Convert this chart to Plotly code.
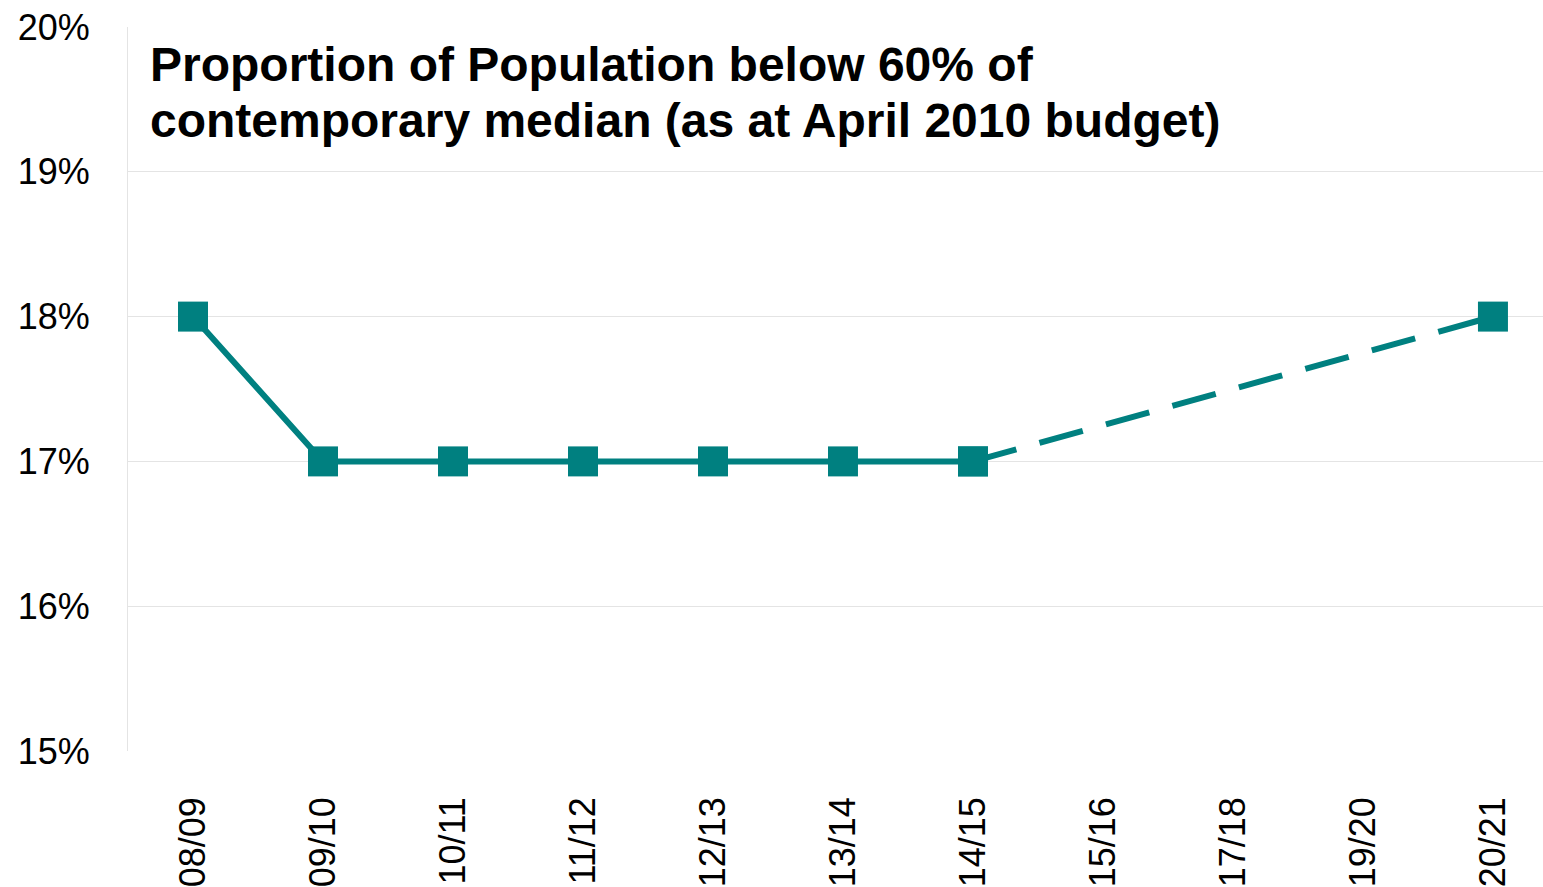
import plotly.graph_objects as go

years = ["08/09", "09/10", "10/11", "11/12", "12/13", "13/14", "14/15", "15/16", "17/18", "19/20", "20/21"]
actual = [18, 17, 17, 17, 17, 17, 17, None, None, None, None]
projected = [None, None, None, None, None, None, 17, None, None, None, 18]
title_lines = ["Proportion of Population below 60% of",
               "contemporary median (as at April 2010 budget)"]
ytick_vals = [15, 16, 17, 18, 19, 20]
ytick_text = ["15%", "16%", "17%", "18%", "19%", "20%"]

TEAL = "#008080"
FONT = "Liberation Sans, Arial, sans-serif"

fig = go.Figure()
fig.add_trace(go.Scatter(
    x=years, y=projected, mode="lines+markers", connectgaps=True,
    line=dict(color=TEAL, width=6, dash="45px,24px"),
    marker=dict(symbol="square", size=30, color=TEAL),
    showlegend=False, cliponaxis=False,
))
fig.add_trace(go.Scatter(
    x=years, y=actual, mode="lines+markers",
    line=dict(color=TEAL, width=6),
    marker=dict(symbol="square", size=30, color=TEAL),
    showlegend=False, cliponaxis=False,
))

plot_w = 1543 - 128
plot_h = 755 - 27
fig.update_layout(
    width=1543, height=887,
    margin=dict(l=128, r=0, t=27, b=132),
    paper_bgcolor="white", plot_bgcolor="white",
    font=dict(family=FONT, color="black", size=36),
    xaxis=dict(
        type="category", categoryorder="array", categoryarray=years,
        range=[-0.5, 10.385], tickangle=-90, showgrid=False,
        ticks="", ticklabelstandoff=38, tickfont=dict(size=36),
        showline=False, zeroline=False, fixedrange=True,
    ),
    yaxis=dict(
        range=[15, 20], tickvals=ytick_vals, ticktext=ytick_text,
        showgrid=True, gridcolor="#e4e4e4", gridwidth=1,
        showline=True, linecolor="#e4e4e4", linewidth=1,
        ticks="", ticklabelstandoff=30, tickfont=dict(size=36),
        zeroline=False, fixedrange=True,
    ),
    annotations=[
        dict(text="<b>" + line + "</b>",
             xref="paper", yref="paper", x=20 / plot_w,
             y=1 - (baseline - 27) / plot_h,
             xanchor="left", yanchor="bottom", yshift=-10, align="left", showarrow=False,
             font=dict(family=FONT, size=48, color="black"))
        for line, baseline in zip(title_lines, [83, 140])
    ],
)

fig.write_html("out.html", config={"displayModeBar": False},
               post_script="document.body.style.margin='0';document.body.style.overflow='hidden';")
